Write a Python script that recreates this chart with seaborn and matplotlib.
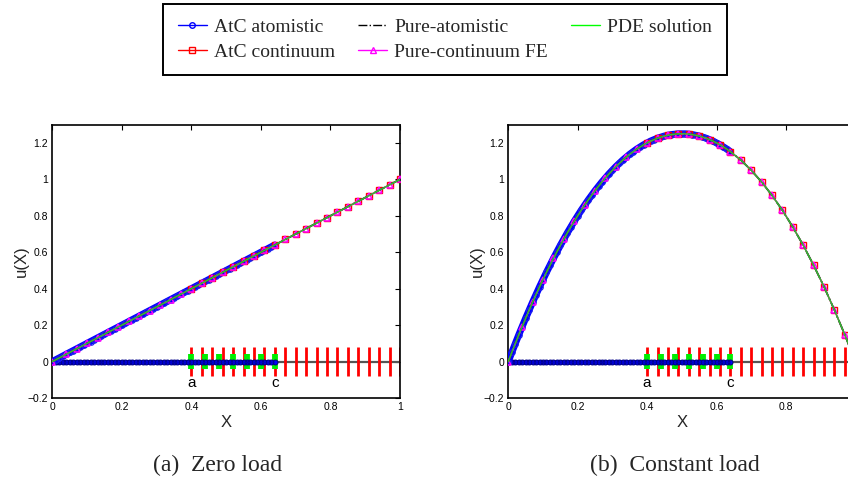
import matplotlib
matplotlib.use("Agg")
import matplotlib.pyplot as plt
import seaborn as sns
import numpy as np
from matplotlib.lines import Line2D

# ---------------- data ----------------
# atom positions (reference configuration) in the atomistic region [0, c]
ATOM_X = [0.00, 0.01, 0.02, 0.03, 0.04, 0.05, 0.06, 0.07, 0.08, 0.09,
          0.10, 0.11, 0.12, 0.13, 0.14, 0.15, 0.16, 0.17, 0.18, 0.19,
          0.20, 0.21, 0.22, 0.23, 0.24, 0.25, 0.26, 0.27, 0.28, 0.29,
          0.30, 0.31, 0.32, 0.33, 0.34, 0.35, 0.36, 0.37, 0.38, 0.39,
          0.40, 0.41, 0.42, 0.43, 0.44, 0.45, 0.46, 0.47, 0.48, 0.49,
          0.50, 0.51, 0.52, 0.53, 0.54, 0.55, 0.56, 0.57, 0.58, 0.59,
          0.60, 0.61, 0.62, 0.63, 0.64]
# displacement of the atoms, zero load
ATOM_U_ZERO = [0.00, 0.01, 0.02, 0.03, 0.04, 0.05, 0.06, 0.07, 0.08, 0.09,
               0.10, 0.11, 0.12, 0.13, 0.14, 0.15, 0.16, 0.17, 0.18, 0.19,
               0.20, 0.21, 0.22, 0.23, 0.24, 0.25, 0.26, 0.27, 0.28, 0.29,
               0.30, 0.31, 0.32, 0.33, 0.34, 0.35, 0.36, 0.37, 0.38, 0.39,
               0.40, 0.41, 0.42, 0.43, 0.44, 0.45, 0.46, 0.47, 0.48, 0.49,
               0.50, 0.51, 0.52, 0.53, 0.54, 0.55, 0.56, 0.57, 0.58, 0.59,
               0.60, 0.61, 0.62, 0.63, 0.64]
# displacement of the atoms, constant load
ATOM_U_CONST = [0.000, 0.050, 0.098, 0.146, 0.192, 0.238, 0.282, 0.326, 0.368, 0.410,
                0.450, 0.490, 0.528, 0.566, 0.602, 0.638, 0.672, 0.706, 0.738, 0.770,
                0.800, 0.830, 0.858, 0.886, 0.912, 0.938, 0.962, 0.986, 1.008, 1.030,
                1.050, 1.070, 1.088, 1.106, 1.122, 1.138, 1.152, 1.166, 1.178, 1.190,
                1.200, 1.210, 1.218, 1.226, 1.232, 1.238, 1.242, 1.246, 1.248, 1.250,
                1.250, 1.250, 1.248, 1.246, 1.242, 1.238, 1.232, 1.226, 1.218, 1.210,
                1.200, 1.190, 1.178, 1.166, 1.152]

# AtC finite-element nodes in the continuum region [a, 1]
FE_X = [0.40, 0.43, 0.46, 0.49, 0.52, 0.55, 0.58, 0.61, 0.64, 0.67, 0.70,
        0.73, 0.76, 0.79, 0.82, 0.85, 0.88, 0.91, 0.94, 0.97, 1.00]
FE_U_ZERO = [0.40, 0.43, 0.46, 0.49, 0.52, 0.55, 0.58, 0.61, 0.64, 0.67, 0.70,
             0.73, 0.76, 0.79, 0.82, 0.85, 0.88, 0.91, 0.94, 0.97, 1.00]
FE_U_CONST = [1.200, 1.226, 1.242, 1.250, 1.248, 1.238, 1.218, 1.190, 1.152, 1.106, 1.050,
              0.986, 0.912, 0.830, 0.738, 0.638, 0.528, 0.410, 0.282, 0.146, 0.000]

# pure-continuum FE nodes over the whole domain
PC_X = [0.00, 0.04, 0.07, 0.10, 0.13, 0.16, 0.19, 0.22, 0.25, 0.28, 0.31, 0.34,
        0.37, 0.40, 0.43, 0.46, 0.49, 0.52, 0.55, 0.58, 0.61, 0.64, 0.67, 0.70,
        0.73, 0.76, 0.79, 0.82, 0.85, 0.88, 0.91, 0.94, 0.97, 1.00]
PC_U_ZERO = [0.00, 0.04, 0.07, 0.10, 0.13, 0.16, 0.19, 0.22, 0.25, 0.28, 0.31, 0.34,
             0.37, 0.40, 0.43, 0.46, 0.49, 0.52, 0.55, 0.58, 0.61, 0.64, 0.67, 0.70,
             0.73, 0.76, 0.79, 0.82, 0.85, 0.88, 0.91, 0.94, 0.97, 1.00]
PC_U_CONST = [0.000, 0.192, 0.326, 0.450, 0.566, 0.672, 0.770, 0.858, 0.938, 1.008, 1.070, 1.122,
              1.166, 1.200, 1.226, 1.242, 1.250, 1.248, 1.238, 1.218, 1.190, 1.152, 1.106, 1.050,
              0.986, 0.912, 0.830, 0.738, 0.638, 0.528, 0.410, 0.282, 0.146, 0.000]

# ghost / overlap nodes (green) in [a, c]
GHOST_X = [0.40, 0.44, 0.48, 0.52, 0.56, 0.60, 0.64]

REGION_LABELS = ["a", "c"]
REGION_X = [0.40, 0.64]

LEGEND_LABELS = ["AtC atomistic", "AtC continuum", "Pure-atomistic",
                 "Pure-continuum FE", "PDE solution"]
CAPTIONS = ["(a)  Zero load", "(b)  Constant load"]
X_TICKS = [0, 0.2, 0.4, 0.6, 0.8, 1]
X_TICK_LABELS_A = ["0", "0.2", "0.4", "0.6", "0.8", "1"]
X_TICK_LABELS_B = ["0", "0.2", "0.4", "0.6", "0.8", ""]   # "1" falls outside the cropped figure
Y_TICKS = [-0.2, 0, 0.2, 0.4, 0.6, 0.8, 1, 1.2]
Y_TICK_LABELS = ["\u22120.2", "0", "0.2", "0.4", "0.6", "0.8", "1", "1.2"]

# ---------------- style ----------------
sns.set_theme(style="white")
plt.rcParams["font.family"] = ["Liberation Sans", "DejaVu Sans"]

fig = plt.figure(figsize=(8.48, 4.82), dpi=100)
ax_a = fig.add_axes([52.3 / 848, 1 - 398 / 482, 347.7 / 848, (398 - 124.7) / 482])
ax_b = fig.add_axes([508.3 / 848, 1 - 398 / 482, 347.0 / 848, (398 - 124.7) / 482])

BLUE = "#0000ff"
RED = "#ff0000"
MAG = "#ff00ff"


def draw(ax, atom_u, fe_u, pc_u, xlabels):
    # reference line
    ax.plot([0, 1], [0, 0], color="#555555", lw=1.6, zorder=1)
    # continuum FE nodes
    ax.vlines(FE_X, -0.08, 0.08, colors=RED, lw=2.0, zorder=2)
    ax.vlines(GHOST_X, -0.04, 0.04, colors="#00ee00", lw=4.2, zorder=3)
    # atoms in reference configuration
    sns.lineplot(x=ATOM_X, y=[0.0] * len(ATOM_X), ax=ax, color=BLUE, lw=3.5,
                 marker="o", markersize=3.5, markerfacecolor="none",
                 markeredgecolor="#000088", markeredgewidth=0.8,
                 sort=False, estimator=None, zorder=4)
    # deformed atoms
    sns.lineplot(x=ATOM_X, y=atom_u, ax=ax, color=BLUE, lw=5.0,
                 marker="o", markersize=4, markerfacecolor="none",
                 markeredgecolor="#2222ee", markeredgewidth=0.8,
                 sort=False, estimator=None, zorder=5)
    # AtC continuum
    sns.lineplot(x=FE_X, y=fe_u, ax=ax, color=RED, lw=1.0,
                 marker="s", markersize=5, markerfacecolor="none",
                 markeredgecolor=RED, markeredgewidth=1.0,
                 sort=False, estimator=None, zorder=6)
    # pure continuum
    sns.lineplot(x=PC_X, y=pc_u, ax=ax, color=MAG, lw=1.0,
                 marker="^", markersize=5, markerfacecolor="none",
                 markeredgecolor=MAG, markeredgewidth=1.1,
                 sort=False, estimator=None, zorder=7)
    # pure atomistic (dash-dot) and PDE solution (green) over the whole domain
    pde_x = list(ATOM_X) + [x for x in FE_X if x > ATOM_X[-1]]
    pde_u = list(atom_u) + [u for x, u in zip(FE_X, fe_u) if x > ATOM_X[-1]]
    sns.lineplot(x=pde_x, y=pde_u, ax=ax, color="#333333", lw=1.3,
                 linestyle="-.", sort=False, estimator=None, zorder=8)
    sns.lineplot(x=pde_x, y=pde_u, ax=ax, color="#33bb33", lw=1.1,
                 sort=False, estimator=None, zorder=9)

    for lab, xx in zip(REGION_LABELS, REGION_X):
        ax.text(xx, -0.12, lab, ha="center", va="center", fontsize=11, color="black")

    ax.set_xlim(0, 1)
    ax.set_ylim(-0.2, 1.3)
    ax.set_xticks(X_TICKS)
    ax.set_xticklabels(xlabels)
    ax.set_yticks(Y_TICKS)
    ax.set_yticklabels(Y_TICK_LABELS)
    ax.tick_params(direction="in", top=True, right=True, length=3.5, width=0.8,
                   labelsize=7.5, pad=3, colors="black")
    for s in ax.spines.values():
        s.set_color("black")
        s.set_linewidth(1.2)
    ax.set_xlabel("X", fontsize=12, labelpad=2)
    ax.set_ylabel("u(X)", fontsize=12, labelpad=-1)
    leg = ax.get_legend()
    if leg is not None:
        leg.remove()


draw(ax_a, ATOM_U_ZERO, FE_U_ZERO, PC_U_ZERO, X_TICK_LABELS_A)
draw(ax_b, ATOM_U_CONST, FE_U_CONST, PC_U_CONST, X_TICK_LABELS_B)

# captions
fig.text(218 / 848, 1 - 465 / 482, CAPTIONS[0], ha="center", va="center",
         fontsize=17, family=["Liberation Serif", "DejaVu Serif"])
fig.text(675 / 848, 1 - 465 / 482, CAPTIONS[1], ha="center", va="center",
         fontsize=17, family=["Liberation Serif", "DejaVu Serif"])

# legend
handles = [
    Line2D([], [], color=BLUE, lw=1, marker="o", markersize=4, markerfacecolor="none"),
    Line2D([], [], color=RED, lw=1, marker="s", markersize=4, markerfacecolor="none"),
    Line2D([], [], color="black", lw=1, linestyle="-."),
    Line2D([], [], color=MAG, lw=1, marker="^", markersize=4, markerfacecolor="none"),
    Line2D([], [], color="#00ff00", lw=1),
]
fig.legend(handles, LEGEND_LABELS, ncol=3, loc="center",
           bbox_to_anchor=(445 / 848, 1 - 39.5 / 482),
           prop={"family": ["Liberation Serif", "DejaVu Serif"], "size": 14},
           frameon=True, fancybox=False, edgecolor="black", framealpha=1,
           handlelength=1.5, handletextpad=0.35, columnspacing=1.2,
           labelspacing=0.38, borderpad=0.75)
fig.legends[0].get_frame().set_linewidth(1.4)

fig.savefig("out.png", dpi=100)
